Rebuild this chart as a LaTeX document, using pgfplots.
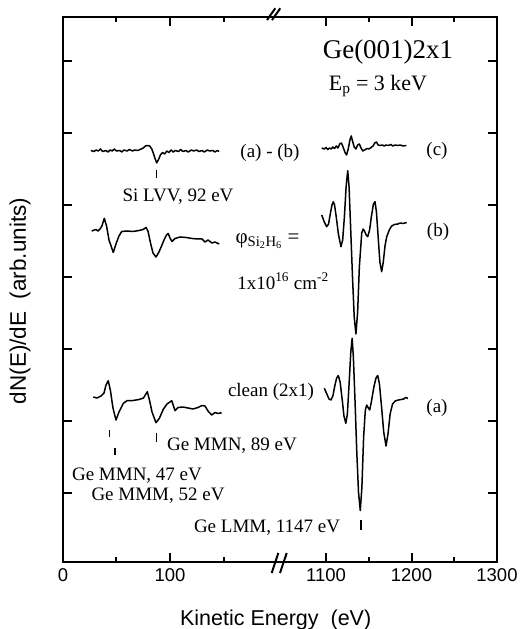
\documentclass[border=0pt]{standalone}
\usepackage{fontspec}
\setmainfont{Liberation Serif}
\setsansfont{Liberation Sans}
\usepackage{pgfplots}
\pgfplotsset{compat=1.18}
\newcommand\lab{\fontsize{19bp}{22bp}\selectfont}
% broken x axis: 0..200 eV at 1.07 units/eV, then 1044..1300 eV at 0.855 units/eV
\pgfplotsset{
  table/lowpart/.style={x expr=1.07*\thisrow{E}, y=I},
  table/highpart/.style={x expr=263+0.855*(\thisrow{E}-1100), y=I},
  spec/.style={black, mark=none, solid, line width=1.5bp, line join=round},
}
\begin{document}
\begin{tikzpicture}
\begin{axis}[
  at={(0,0)}, anchor=south west,
  scale only axis, width=434bp, height=545bp,
  xmin=0, xmax=434, ymin=0, ymax=545,
  axis line style={line width=2bp},
  xtick={0,107,263,348.5,434},
  xticklabels={0,100,1100,1200,1300},
  minor xtick={53.5,160.5,305.75,391.25},
  ytick={69,141,213,285,357,429,501},
  yticklabels={},
  tick align=inside,
  major tick length=9bp, minor tick length=5bp,
  every tick/.style={black, line width=2bp},
  xticklabel style={font=\sffamily\fontsize{18.5bp}{18.5bp}\selectfont, yshift=-3bp},
  clip=false,
]
% (a)-(b), low energy
\addplot[spec] table[lowpart] {
E I
26 411.5
29 410.5
31 412
33 411
35 413
37 410.5
40 411.5
42 410
44 412
46 411
48 413
50 411
53 411.5
55 410
57 412
60 411
62 412.5
65 411
67 412
70 411.5
72 412.5
75 414
77 416
79 416.5
81 416
83 413
85 407
87.5 399
89.5 403
91 407
93 409.5
95 408
97 411
99 409.5
101 412
103 410
105 411.5
108 410.5
110 412.5
112 410.5
115 411.5
117 410
120 412
122 411
125 412
127 410.5
130 411.5
132 410
135 412
137 411
140 411.5
142 410
144 411.5
146 410.5
};
% (c), high energy
\addplot[spec] table[highpart] {
E I
1095 414
1098 413
1100 414.5
1102 412.5
1104 414
1106 413
1108 415
1110 413.5
1112 416
1114 414
1116 418
1118 419
1120 415
1122 410
1124 407
1126 413
1128 422
1129.5 426
1131 421
1133 415
1135 413
1137 417
1139 418
1141 414
1143 411
1145 412
1148 413.5
1150 413
1152 414
1155 416
1157 419
1159 420
1161 417
1163 416.5
1166 417
1168 416
1170 417
1173 416.5
1176 417.5
1178 416
1181 417
1184 416.5
1187 417
1190 416
1194 416.5
};
% (b), low energy
\addplot[spec] table[lowpart] {
E I
26.8 331
30.8 332.5
32.7 331
34.6 333
36.4 336
38.6 343.7
40.7 336
43 322
47 309.5
49.5 318
52.3 326
54.9 330.5
59.8 331
65.4 330.5
71 331.5
74.8 332.5
77.6 334.5
79.4 331
81.8 319
84.1 309
86.9 305
89.7 310
92.1 316
94.4 322
96.7 327
98.4 328.5
100 324
101.9 320.5
104.7 323.5
109.3 325
115 324.5
120.6 323.5
126.2 323
129.9 323
132.7 320
135.5 322
139.3 319
142 320
146 318
};
% (b), high energy
\addplot[spec] table[highpart] {
E I
1095 347
1098 340
1100.8 335.3
1103 338
1105 348
1107 357
1108.5 360.3
1110 357
1112 345
1114.5 328
1117.5 315.3
1119.5 322
1121.5 345
1123.5 375
1125.4 391.3
1127 375
1129 330
1131 285
1133 245
1135 228
1137 250
1139 295
1141.8 329
1143.5 333
1145 331
1147 327
1148.8 325.3
1151 332
1153 345
1155.5 358
1157.3 360.3
1159 350
1161 325
1163 300
1165.1 290.3
1167 300
1169 316
1171 325.3
1174 332
1176.8 336
1180 337.5
1184 338
1187 339
1190 338.5
1194.4 339.5
};
% (a) clean, low energy
\addplot[spec] table[lowpart] {
E I
28.3 165
31.8 164
35.5 166
38.3 169
40.2 177
42.3 181.3
44.4 171
46.7 154
49.5 142
52.3 150
56.4 158.7
59.8 161.3
65.4 161.5
71 162.5
75.2 164
78.8 170.3
80.8 162
83.2 150
86.9 139.3
90.2 144
93.7 152.7
97.2 158
101.6 161.3
103.3 156
104.7 151.3
107.5 154.5
112.1 155
116.8 154
121.5 153
126.2 154.5
129.9 156.5
132.7 156
135.5 151
139 147
142 149.5
144.9 148.5
148.3 149.3
};
% (a) clean, high energy
\addplot[spec] table[highpart] {
E I
1098 173.7
1101 168
1103.5 163
1105.8 162
1108 166
1110.5 177
1112.5 184
1114.4 186.5
1116.5 180
1119 162
1121 146
1123.2 138.7
1125 148
1127 178
1129 210
1130.6 223.7
1132 205
1134 160
1136 110
1138 70
1140.1 51.5
1142 75
1144 125
1146 152
1147.6 157
1149.5 154
1151.1 152
1153 160
1156 175
1158.5 184
1160.5 186.5
1162.5 178
1165 155
1167.5 130
1170.2 116
1172.5 128
1175 148
1177.8 158
1181 161
1184.6 162
1188 162.5
1191 163
1193 164.5
1195.9 163.7
};
% peak markers
\draw[line width=1.2bp] (axis cs:93.7,384) -- (axis cs:93.7,392);
\draw[line width=1.2bp] (axis cs:46.3,125) -- (axis cs:46.3,132);
\draw[line width=1.2bp] (axis cs:52,107) -- (axis cs:52,114);
\draw[line width=1.2bp] (axis cs:93.7,120) -- (axis cs:93.7,129);
\draw[line width=1.2bp] (axis cs:298,32) -- (axis cs:298,42);
% axis breaks
\draw[line width=2bp] (axis cs:204,542) -- (axis cs:212.3,553.7);
\draw[line width=2bp] (axis cs:209,542) -- (axis cs:217.3,553.7);
\draw[line width=2bp] (axis cs:208.7,-11) -- (axis cs:215.3,9);
\draw[line width=2bp] (axis cs:217,-11) -- (axis cs:223.7,9);
% annotations
\node[font=\fontsize{27bp}{30bp}\selectfont] at (axis cs:325,510) {Ge(001)2x1};
\node[font=\fontsize{22bp}{24bp}\selectfont] at (axis cs:315,476) {E\textsubscript{p} = 3 keV};
\node[font=\lab] at (axis cs:207,409) {(a) - (b)};
\node[font=\lab] at (axis cs:374,411) {(c)};
\node[font=\lab] at (axis cs:115,365) {Si LVV, 92 eV};
\node[font=\lab] at (axis cs:375,330) {(b)};
\node[font=\lab, anchor=west] at (axis cs:169,321) {\fontsize{21bp}{22bp}\selectfont φ\textsubscript{Si\textsubscript{2}H\textsubscript{6}} =};
\node[font=\lab] at (axis cs:220,281) {1x10\textsuperscript{16} cm\textsuperscript{-2}};
\node[font=\lab] at (axis cs:208,170) {clean (2x1)};
\node[font=\lab] at (axis cs:374,154) {(a)};
\node[font=\lab] at (axis cs:169,116) {Ge MMN, 89 eV};
\node[font=\lab] at (axis cs:74,86) {Ge MMN, 47 eV};
\node[font=\lab] at (axis cs:95,66) {Ge MMM, 52 eV};
\node[font=\lab] at (axis cs:204,34) {Ge LMM, 1147 eV};
% axis titles
\node[font=\sffamily\fontsize{21.5bp}{21bp}\selectfont] at ([yshift=-58bp]rel axis cs:0.49,0) {Kinetic Energy\ \ (eV)};
\node[rotate=90, font=\sffamily\fontsize{22.5bp}{21bp}\selectfont] at ([xshift=-43bp]rel axis cs:0,0.479) {dN(E)/dE\ \ (arb.units)};
\end{axis}
\pgfresetboundingbox
\path (-63bp,-67bp) rectangle (458bp,562bp);
\end{tikzpicture}
\end{document}
